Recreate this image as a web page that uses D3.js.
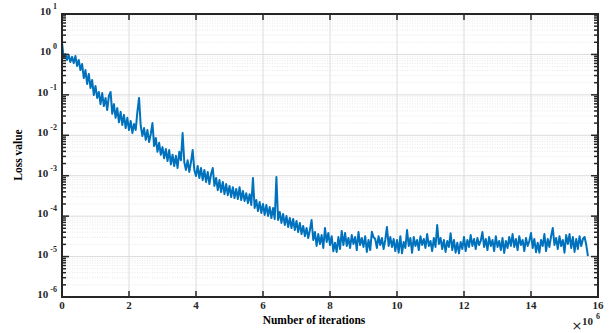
<!DOCTYPE html>
<html><head><meta charset="utf-8">
<script src="https://cdn.jsdelivr.net/npm/d3@7"></script>
<style>body{margin:0;background:#fff}</style>
</head><body><svg id="c" width="611" height="333"></svg>
<script>
const loss = [
 2.0, 0.82, 1.02, 0.73, 0.97, 0.65, 0.87, 0.61, 0.92, 0.52,
 0.73, 0.41, 0.58, 0.26, 0.41, 0.186, 0.33, 0.148, 0.233, 0.099,
 0.166, 0.084, 0.118, 0.059, 0.111, 0.053, 0.084, 0.042, 0.094, 0.118,
 0.034, 0.059, 0.027, 0.047, 0.021, 0.038, 0.018, 0.032, 0.0151, 0.027,
 0.0135, 0.0226, 0.0114, 0.019, 0.0135, 0.038, 0.084, 0.017, 0.0096, 0.0151,
 0.0077, 0.0135, 0.0068, 0.0108, 0.0201, 0.0054, 0.0086, 0.0039, 0.0065, 0.0033,
 0.0051, 0.0027, 0.0046, 0.0023, 0.0043, 0.0019, 0.0033, 0.00174, 0.0031, 0.00155,
 0.0039, 0.0024, 0.0114, 0.00218, 0.00139, 0.0024, 0.00124, 0.00218, 0.0043, 0.00139,
 9.8e-4, 0.00174, 8.8e-4, 0.00155, 7.8e-4, 0.00139, 7.0e-4, 0.00124, 6.2e-4, 0.0011,
 0.00155, 5.6e-4, 8.8e-4, 4.4e-4, 7.8e-4, 3.95e-4, 7.0e-4, 3.5e-4, 6.2e-4, 3.3e-4,
 5.6e-4, 2.97e-4, 5.2e-4, 2.8e-4, 4.7e-4, 2.65e-4, 5.2e-4, 2.5e-4, 4.2e-4, 2.37e-4,
 3.7e-4, 2.1e-4, 3.5e-4, 1.89e-4, 8.8e-4, 1.59e-4, 2.5e-4, 1.34e-4, 2.24e-4, 1.2e-4,
 2.0e-4, 1.07e-4, 1.89e-4, 1.01e-4, 1.68e-4, 9.0e-5, 1.59e-4, 8.5e-5, 9.3e-4, 8.0e-5,
 1.27e-4, 6.8e-5, 1.13e-4, 6.05e-5, 1.01e-4, 5.4e-5, 9.0e-5, 5.1e-5, 8.5e-5, 4.54e-5,
 7.6e-5, 4.05e-5, 6.8e-5, 3.6e-5, 5.7e-5, 3.2e-5, 5.1e-5, 2.88e-5, 4.54e-5, 8.0e-5,
 2.57e-5, 4.05e-5, 1.83e-5, 3.6e-5, 2.05e-5, 3.4e-5, 1.63e-5, 5.1e-5, 2.3e-5, 3.83e-5,
 1.93e-5, 3.2e-5, 1.35e-5, 2.2e-5, 1.3e-5, 3.05e-5, 1.54e-5, 4.3e-5, 1.93e-5, 3.83e-5,
 1.83e-5, 2.88e-5, 1.63e-5, 3.4e-5, 2.05e-5, 3.05e-5, 1.45e-5, 4.05e-5, 1.93e-5, 2.88e-5,
 1.73e-5, 3.2e-5, 1.3e-5, 2.57e-5, 1.45e-5, 4.1e-5, 3.0e-5, 2.72e-5, 1.63e-5, 3.2e-5,
 1.93e-5, 2.88e-5, 1.54e-5, 2.57e-5, 5.4e-5, 1.83e-5, 3.05e-5, 1.73e-5, 2.72e-5, 1.37e-5,
 2.57e-5, 1.25e-5, 3.2e-5, 1.2e-5, 2.3e-5, 1.63e-5, 4.54e-5, 1.83e-5, 2.88e-5, 1.24e-5,
 3.05e-5, 1.83e-5, 2.57e-5, 1.45e-5, 3.2e-5, 1.93e-5, 2.72e-5, 1.63e-5, 3.6e-5, 1.83e-5,
 2.43e-5, 1.37e-5, 2.88e-5, 1.73e-5, 6.05e-5, 2.05e-5, 2.88e-5, 1.54e-5, 2.57e-5, 1.3e-5,
 2.43e-5, 1.73e-5, 3.8e-5, 1.45e-5, 2.57e-5, 1.25e-5, 2.2e-5, 1.2e-5, 2.3e-5, 1.54e-5,
 3.05e-5, 1.37e-5, 2.57e-5, 1.73e-5, 3.4e-5, 1.83e-5, 2.72e-5, 1.54e-5, 2.88e-5, 1.93e-5,
 2.43e-5, 4.05e-5, 1.73e-5, 2.72e-5, 1.45e-5, 3.05e-5, 1.83e-5, 2.57e-5, 1.37e-5, 3.2e-5,
 1.73e-5, 2.43e-5, 1.45e-5, 2.88e-5, 1.23e-5, 2.43e-5, 1.63e-5, 3.05e-5, 1.83e-5, 3.6e-5,
 1.73e-5, 2.72e-5, 1.45e-5, 3.2e-5, 1.93e-5, 2.57e-5, 1.37e-5, 2.88e-5, 1.83e-5, 2.43e-5,
 3.83e-5, 1.63e-5, 2.72e-5, 1.28e-5, 2.2e-5, 1.25e-5, 2.57e-5, 1.83e-5, 3.6e-5, 1.37e-5,
 2.72e-5, 1.73e-5, 3.2e-5, 5.1e-5, 1.93e-5, 2.88e-5, 1.54e-5, 3.2e-5, 1.83e-5, 2.57e-5,
 1.25e-5, 3.4e-5, 2.05e-5, 3.6e-5, 1.63e-5, 3.05e-5, 1.3e-5, 2.72e-5, 1.54e-5, 3.2e-5,
 1.83e-5, 2.72e-5, 3.05e-5, 1.93e-5, 1.03e-5
];
const iterStep = 5e4;
const xTicks = [0, 2e6, 4e6, 6e6, 8e6, 10e6, 12e6, 14e6, 16e6];
const xTickLabels = ["0", "2", "4", "6", "8", "10", "12", "14", "16"];
const yExponents = [1, 0, -1, -2, -3, -4, -5, -6];
const xLabel = "Number of iterations";
const yLabel = "Loss value";

const L = 62, R = 598, T = 14, B = 297;
const axisColor = "#262626";
const font = "'Liberation Serif','Times New Roman',serif";
const svg = d3.select("#c");
const x = d3.scaleLinear().domain([0, 16e6]).range([L, R]);
const y = d3.scaleLog().domain([1e-6, 10]).range([B, T]);

const majorY = yExponents.map(e => Math.pow(10, e));
const minorY = [];
for (let e = -6; e < 1; e++) for (let m = 2; m <= 9; m++) minorY.push(m * Math.pow(10, e));

// grid
const g = svg.append("g");
g.selectAll(".mg").data(minorY).join("line")
  .attr("x1", L).attr("x2", R).attr("y1", d => y(d)).attr("y2", d => y(d))
  .attr("stroke", "#e2e2e2").attr("stroke-width", 0.8).attr("stroke-dasharray", "1,1.5");
g.selectAll(".Mg").data(majorY.slice(1, -1)).join("line")
  .attr("x1", L).attr("x2", R).attr("y1", d => y(d)).attr("y2", d => y(d))
  .attr("stroke", "#dcdcdc").attr("stroke-width", 1);
g.selectAll(".vg").data(xTicks.slice(1, -1)).join("line")
  .attr("y1", T).attr("y2", B).attr("x1", d => x(d)).attr("x2", d => x(d))
  .attr("stroke", "#dcdcdc").attr("stroke-width", 1);

// curve
svg.append("clipPath").attr("id", "cp").append("rect")
  .attr("x", L).attr("y", T).attr("width", R - L).attr("height", B - T);
svg.append("path").datum(loss)
  .attr("clip-path", "url(#cp)")
  .attr("fill", "none").attr("stroke", "#0072BD").attr("stroke-width", 2)
  .attr("stroke-linejoin", "round")
  .attr("d", d3.line().x((d, i) => x(i * iterStep)).y(d => y(d)));

// ticks
const t = svg.append("g").attr("stroke", axisColor).attr("stroke-width", 1.5);
[[L, 1], [R, -1]].forEach(([xx, dir]) => {
  t.append("g").selectAll("line").data(majorY).join("line")
    .attr("x1", xx).attr("x2", xx + dir * 7).attr("y1", d => y(d)).attr("y2", d => y(d));
  t.append("g").selectAll("line").data(minorY).join("line")
    .attr("x1", xx).attr("x2", xx + dir * 4).attr("y1", d => y(d)).attr("y2", d => y(d));
});
[[B, -1], [T, 1]].forEach(([yy, dir]) => {
  t.append("g").selectAll("line").data(xTicks).join("line")
    .attr("y1", yy).attr("y2", yy + dir * 6).attr("x1", d => x(d)).attr("x2", d => x(d));
});

// box
svg.append("rect").attr("x", L).attr("y", T).attr("width", R - L).attr("height", B - T)
  .attr("fill", "none").attr("stroke", axisColor).attr("stroke-width", 2);

// x tick labels
svg.append("g").selectAll("text").data(xTicks).join("text")
  .attr("x", d => x(d)).attr("y", 309).attr("text-anchor", "middle")
  .attr("font-family", font).attr("font-weight", "bold").attr("font-size", 11)
  .attr("fill", axisColor).text((d, i) => xTickLabels[i]);

// y tick labels
const yt = svg.append("g").selectAll("text").data(yExponents).join("text")
  .attr("x", 57).attr("y", d => y(Math.pow(10, d)) + 1).attr("text-anchor", "end")
  .attr("font-family", font).attr("font-weight", "bold").attr("font-size", 11)
  .attr("fill", axisColor);
yt.append("tspan").text("10");
yt.append("tspan").attr("dx", 2).attr("dy", -6).attr("font-size", 8).text(d => String(d));

// exponent multiplier
svg.append("text").attr("x", 577).attr("y", 330).attr("text-anchor", "middle")
  .attr("font-family", "'DejaVu Sans',sans-serif").attr("font-size", 13).attr("fill", axisColor)
  .text("\u00d7");
const mx = svg.append("text").attr("x", 582).attr("y", 325)
  .attr("font-family", font).attr("font-weight", "bold").attr("font-size", 11).attr("fill", axisColor);
mx.append("tspan").text("10");
mx.append("tspan").attr("dx", 3).attr("dy", -6).attr("font-size", 8).text("6");

// axis labels
svg.append("text").attr("x", 314).attr("y", 324).attr("text-anchor", "middle")
  .attr("font-family", font).attr("font-weight", "bold").attr("font-size", 11.5)
  .attr("fill", "#000").text(xLabel);
svg.append("text").attr("transform", "translate(22,155) rotate(-90)").attr("text-anchor", "middle")
  .attr("font-family", font).attr("font-weight", "bold").attr("font-size", 11.5)
  .attr("fill", "#000").text(yLabel);
</script></body></html>
